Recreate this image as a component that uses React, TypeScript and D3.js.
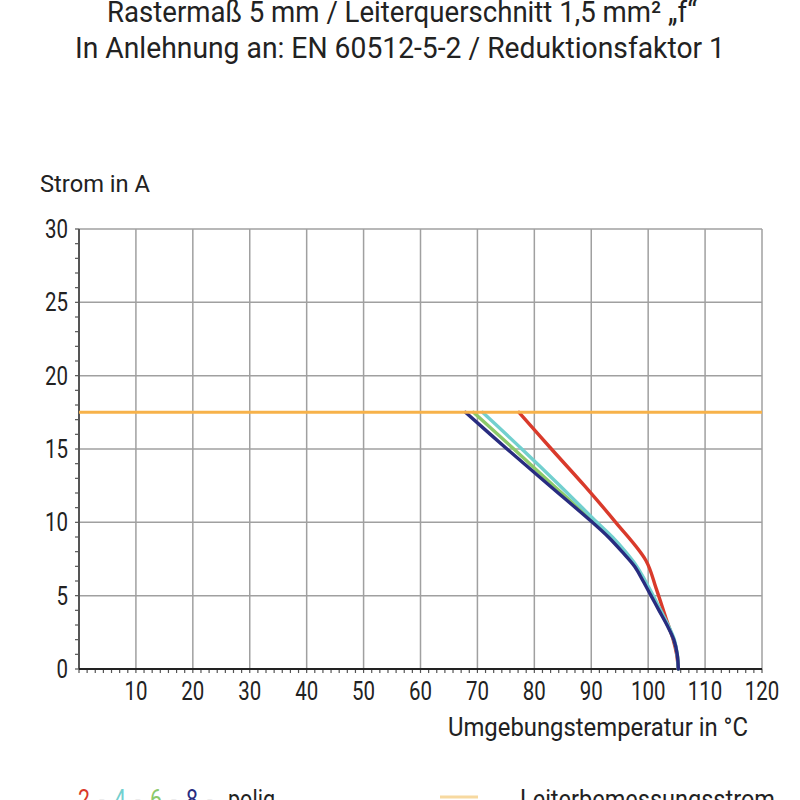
import React from "react";
import * as d3 from "d3";

const titleLines = [
  "Rastermaß 5 mm / Leiterquerschnitt 1,5 mm² „f“",
  "In Anlehnung an: EN 60512-5-2 / Reduktionsfaktor 1",
];
const yLabel = "Strom in A";
const xLabel = "Umgebungstemperatur in °C";
const legendSuffix = "polig";
const legendRated = "Leiterbemessungsstrom";
const xTicks = [10, 20, 30, 40, 50, 60, 70, 80, 90, 100, 110, 120];
const yTicks = [0, 5, 10, 15, 20, 25, 30];
const ratedCurrent = 17.5;

// [temperature °C, current A]
const pole2: [number, number][] = [
  [77.3, 17.5], [83.0, 15.0], [88.8, 12.5], [94.3, 10.0], [99.6, 7.4], [101.4, 5.5], [103.1, 3.5], [104.4, 2.0], [105.0, 1.0], [105.3, 0],
];
const pole4: [number, number][] = [
  [70.9, 17.5], [77.8, 15.0], [84.5, 12.5], [91.0, 10.0], [93.7, 9.0], [96.0, 8.0], [98.0, 7.0], [99.5, 6.0], [100.9, 5.0], [102.2, 4.0], [103.5, 3.0], [104.6, 2.0], [105.1, 1.0], [105.3, 0],
];
const pole6: [number, number][] = [
  [69.3, 17.5], [76.4, 15.0], [83.4, 12.5], [90.5, 10.0], [93.3, 9.0], [95.7, 8.0], [97.8, 7.0], [99.3, 6.0], [100.7, 5.0], [102.0, 4.0], [103.4, 3.0], [104.5, 2.0], [105.1, 1.0], [105.3, 0],
];
const pole8: [number, number][] = [
  [67.9, 17.5], [75.2, 15.0], [82.7, 12.5], [90.2, 10.0], [93.0, 9.0], [95.4, 8.0], [97.6, 7.0], [99.1, 6.0], [100.5, 5.0], [101.9, 4.0], [103.3, 3.0], [104.5, 2.0], [105.1, 1.0], [105.3, 0],
];

const seriesNames = ["2", "4", "6", "8"];
const seriesData = [pole2, pole4, pole6, pole8];
const seriesColors = ["#d93a2b", "#72d0cf", "#8cc96a", "#282c80"];
const drawOrder = [0, 2, 1, 3];

const FONT = "Roboto, 'Liberation Sans', sans-serif";

export default function App() {
  const W = 800, H = 800;
  const left = 79, right = 762, top = 229, bottom = 669;
  const x = d3.scaleLinear().domain([0, 120]).range([left, right]);
  const y = d3.scaleLinear().domain([0, 30]).range([bottom, top]);

  const line = d3
    .line<[number, number]>()
    .x((d) => x(d[0]))
    .y((d) => y(d[1]))
    .curve(d3.curveCatmullRom.alpha(0.5));

  const xMinor: number[] = [];
  for (let i = 0; i <= 12 * 7; i++) xMinor.push((i * 10) / 7);
  const yMinor = d3.range(0, 31, 1);
  const gridX = d3.range(10, 121, 10);
  const gridY = d3.range(5, 31, 5);
  const adj = "spacingAndGlyphs";

  return (
    <svg width={W} height={H} style={{ position: "absolute", left: 0, top: 0, background: "#fff" }} fontFamily={FONT}>
      <rect x={0} y={0} width={W} height={H} fill="#fff" />
      <text x={107} y={22} fontSize={29} fill="#222" textLength={590} lengthAdjust={adj}>{titleLines[0]}</text>
      <text x={75} y={58} fontSize={29} fill="#222" textLength={650} lengthAdjust={adj}>{titleLines[1]}</text>
      <text x={40} y={192} fontSize={23} fill="#222" textLength={110} lengthAdjust={adj}>{yLabel}</text>

      {gridX.map((v) => (
        <line key={"gx" + v} x1={x(v)} x2={x(v)} y1={top} y2={bottom} stroke="#a0a0a0" strokeWidth={1.5} />
      ))}
      {gridY.map((v) => (
        <line key={"gy" + v} x1={left} x2={right} y1={y(v)} y2={y(v)} stroke="#a0a0a0" strokeWidth={1.5} />
      ))}

      {yMinor.map((v) => (
        <line key={"ym" + v} x1={left - 4} x2={left} y1={y(v)} y2={y(v)} stroke="#555" strokeWidth={1.2} />
      ))}
      {xMinor.map((v, i) => (
        <line key={"xm" + i} x1={x(v)} x2={x(v)} y1={bottom} y2={bottom + 4} stroke="#555" strokeWidth={1.2} />
      ))}

      <line x1={left} x2={left} y1={top} y2={bottom} stroke="#555" strokeWidth={2} />
      <line x1={left} x2={right} y1={bottom} y2={bottom} stroke="#222" strokeWidth={2} />

      {yTicks.map((v) => {
        const s = String(v);
        return (
          <text key={"yt" + v} x={68 - 11.5 * s.length} y={y(v) + 9} fontSize={26} fill="#222" textLength={11.5 * s.length} lengthAdjust={adj}>
            {s}
          </text>
        );
      })}
      {xTicks.map((v) => {
        const s = String(v);
        const w = 11.5 * s.length;
        return (
          <text key={"xt" + v} x={x(v) - w / 2} y={700} fontSize={26} fill="#222" textLength={w} lengthAdjust={adj}>
            {s}
          </text>
        );
      })}
      <text x={448} y={736} fontSize={25} fill="#222" textLength={300} lengthAdjust={adj}>{xLabel}</text>

      {drawOrder.map((i) => (
        <path key={"s" + i} d={line(seriesData[i]) || ""} fill="none" stroke={seriesColors[i]} strokeWidth={3.4} strokeLinejoin="round" strokeLinecap="round" />
      ))}
      <line x1={left} x2={right} y1={y(ratedCurrent)} y2={y(ratedCurrent)} stroke="#f7b24a" strokeWidth={3} />

      {seriesNames.map((n, i) => (
        <text key={"ln" + n} x={78 + i * 36} y={808} fontSize={26} fill={seriesColors[i]} textLength={12} lengthAdjust={adj}>
          {n}
        </text>
      ))}
      {seriesNames.map((n, i) => (
        <text key={"ld" + n} x={99 + i * 36} y={806} fontSize={20} fill="#e2e2e2">
          -
        </text>
      ))}
      <text x={228} y={808} fontSize={26} fill="#222" textLength={47} lengthAdjust={adj}>{legendSuffix}</text>
      <line x1={440} x2={478} y1={797} y2={797} stroke="#f7d9a0" strokeWidth={3} />
      <text x={520} y={808} fontSize={26} fill="#222" textLength={255} lengthAdjust={adj}>{legendRated}</text>
    </svg>
  );
}
